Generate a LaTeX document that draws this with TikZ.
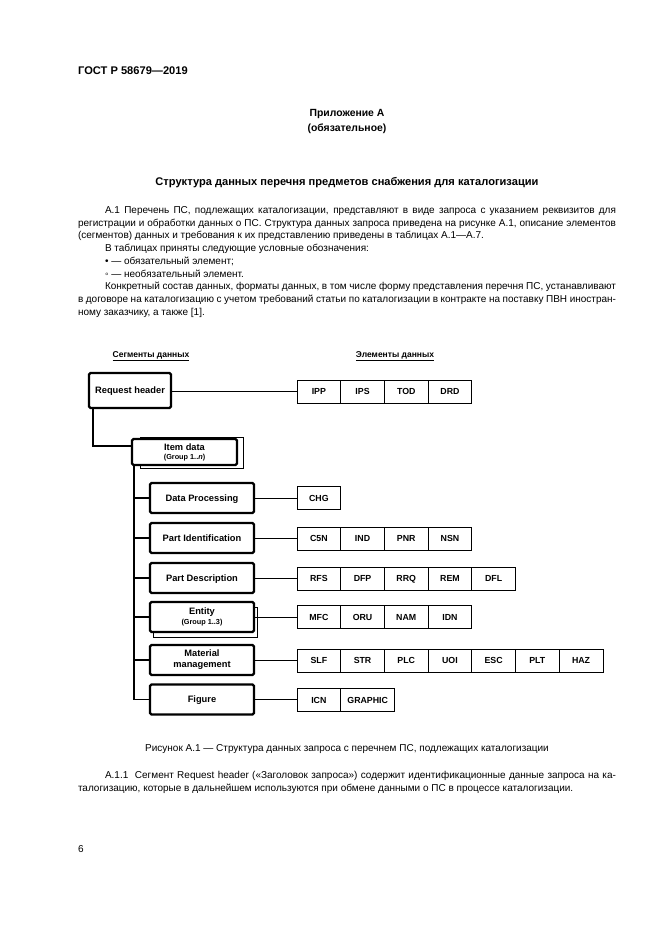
\documentclass[tikz,border=0pt]{standalone}
\usepackage{fontspec}
\setmainfont{Liberation Sans}
\begin{document}
\begin{tikzpicture}[x=1pt,y=-1pt,
  body/.style={inner sep=0,outer sep=0,anchor=base west,font=\fontsize{10}{12.7}\selectfont},
  bodyc/.style={inner sep=0,outer sep=0,anchor=base,font=\fontsize{10}{12.7}\selectfont},
  head/.style={inner sep=0,outer sep=0,anchor=base,font=\bfseries\fontsize{10.4}{13}\selectfont},
  seg/.style={draw,line width=2.4pt,rounded corners=1.5pt,fill=white,inner sep=0,outer sep=0,
    minimum width=104pt,minimum height=30pt,align=center,font=\bfseries\fontsize{9.3}{11}\selectfont},
  segone/.style={seg,text height=6.7pt,text depth=0pt},
  cell/.style={draw,line width=0.8pt,inner sep=0,outer sep=0,minimum width=43.7pt,minimum height=23pt,
    anchor=west,text height=6.3pt,text depth=0pt,font=\bfseries\fontsize{8.8}{10}\selectfont},
  colhead/.style={inner sep=0,anchor=base,font=\bfseries\fontsize{8.5}{10}\selectfont},
  thin/.style={line width=0.9pt},
  trunk/.style={line width=1.8pt},
  shadowbox/.style={line width=0.8pt}]
\fill[white] (0,0) rectangle (661,935);
\useasboundingbox (0,0) rectangle (661,935);

% page header
\node[inner sep=0,anchor=base west,font=\bfseries\fontsize{11.1}{13}\selectfont] (gost) at (78,74) {ГОСТ Р 58679—2019};
\node[head] (app) at (347,116) {Приложение А};
\node[head] (oblig) at (347,131) {(обязательное)};
\node[head,font=\bfseries\fontsize{11.1}{13}\selectfont] (title) at (347,185) {Структура данных перечня предметов снабжения для каталогизации};

% body text
\node[body] (l1) at (105,213.5) {\makebox[511pt][s]{А.1 Перечень ПС, подлежащих каталогизации, представляют в виде запроса с указанием реквизитов для}};
\node[body] (l2) at (78,226.2) {\makebox[538pt][s]{регистрации и обработки данных о ПС. Структура данных запроса приведена на рисунке А.1, описание элементов}};
\node[body] (l3) at (78,238.9) {(сегментов) данных и требования к их представлению приведены в таблицах А.1—А.7.};
\node[body] (l4) at (105,251.6) {В таблицах приняты следующие условные обозначения:};
\node[body] (l5) at (105,264.3) {• — обязательный элемент;};
\node[body] (l6) at (105,277.0) {◦ — необязательный элемент.};
\node[body] (l7) at (105,289.7) {\makebox[511pt][s]{Конкретный состав данных, форматы данных, в том числе форму представления перечня ПС, устанавливают}};
\node[body] (l8) at (78,302.4) {\makebox[538pt][s]{в договоре на каталогизацию с учетом требований статьи по каталогизации в контракте на поставку ПВН иностран-}};
\node[body] (l9) at (78,315.1) {ному заказчику, а также [1].};

% column headings
\node[colhead] (segh) at (151,357) {\underline{Сегменты данных}};
\node[colhead] (elh) at (395,357) {\underline{Элементы данных}};

% shadows
\draw[shadowbox] (140,437) rectangle (243,468);
\draw[shadowbox] (153,607) rectangle (257,637);

% segments
\node[segone,minimum width=82pt,minimum height=35pt] (rh) at (130,390.5) {Request header};
\node[seg,minimum width=105pt,minimum height=26pt] (item) at (184.5,452) {Item data\\[-2pt]{\fontsize{7.3}{8}\selectfont(Group 1..\textit{n})}};
\node[segone] (dp) at (202,498) {Data Processing};
\node[segone] (pi) at (202,538) {Part Identification};
\node[segone] (pd) at (202,578) {Part Description};
\node[seg] (en) at (202,617) {Entity\\[-1pt]{\fontsize{7.3}{8}\selectfont(Group 1..3)}};
\node[seg] (mm) at (202,660) {Material\\management};
\node[segone] (fig) at (202,699.5) {Figure};

% element rows
\foreach \t [count=\i from 0] in {IPP,IPS,TOD,DRD}
  \node[cell] (h\i) at (297+\i*43.7,391.5) {\t};
\node[cell] (d0) at (297,498) {CHG};
\foreach \t [count=\i from 0] in {C5N,IND,PNR,NSN}
  \node[cell] (p\i) at (297+\i*43.7,538.5) {\t};
\foreach \t [count=\i from 0] in {RFS,DFP,RRQ,REM,DFL}
  \node[cell] (q\i) at (297+\i*43.7,578.5) {\t};
\foreach \t [count=\i from 0] in {MFC,ORU,NAM,IDN}
  \node[cell] (e\i) at (297+\i*43.7,617) {\t};
\foreach \t [count=\i from 0] in {SLF,STR,PLC,UOI,ESC,PLT,HAZ}
  \node[cell] (m\i) at (297+\i*43.7,660.5) {\t};
\node[cell] (f0) at (297,700) {ICN};
\node[cell,minimum width=54pt] (f1) at (340.7,700) {GRAPHIC};

% connectors: segment to elements
\draw[thin] (rh.east |- h0.west) -- (h0.west);
\draw[thin] (dp.east) -- (dp.east -| d0.west);
\draw[thin] (pi.east) -- (pi.east -| p0.west);
\draw[thin] (pd.east) -- (pd.east -| q0.west);
\draw[thin] (en.east) -- (en.east -| e0.west);
\draw[thin] (mm.east) -- (mm.east -| m0.west);
\draw[thin] (fig.east) -- (fig.east -| f0.west);

% tree
\coordinate (c1) at (93,446);
\draw[trunk] (rh.south -| c1) |- (item.west |- c1);
\coordinate (tk) at (134,0);
\draw[trunk] (item.south -| tk) |- (fig.west);
\foreach \s in {dp,pi,pd,en,mm}
  \draw[trunk] (tk |- \s.west) -- (\s.west);

% caption and following text
\node[bodyc] (cap) at (347,751.5) {Рисунок А.1 — Структура данных запроса с перечнем ПС, подлежащих каталогизации};
\node[body] (k1) at (105,778.5) {\makebox[511pt][s]{А.1.1\ \ Сегмент Request header («Заголовок запроса») содержит идентификационные данные запроса на ка-}};
\node[body] (k2) at (78,791.5) {талогизацию, которые в дальнейшем используются при обмене данными о ПС в процессе каталогизации.};
\node[body] (pg) at (78,852) {6};
\end{tikzpicture}
\end{document}
